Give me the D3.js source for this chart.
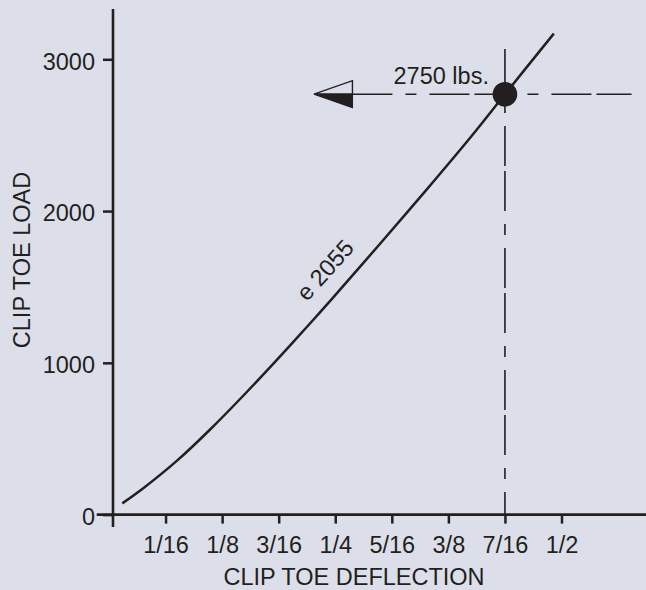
<!DOCTYPE html>
<html>
<head>
<meta charset="utf-8">
<script src="https://cdn.jsdelivr.net/npm/d3@7"></script>
<style>
  html, body { margin: 0; padding: 0; background: #dcdfea; }
  svg { display: block; }
  text { font-family: "Liberation Sans", Arial, Helvetica, sans-serif; fill: #231f20; }
</style>
</head>
<body>
<svg id="chart" width="646" height="590"></svg>
<script>
// ---- data ----
const deflection = [0.0147, 0.0386, 0.0755, 0.1123, 0.1491, 0.186, 0.2228, 0.2449, 0.30, 0.35, 0.40, 0.4375, 0.4915];
const load       = [74, 177, 357, 564, 788, 1023, 1264, 1412, 1788, 2135, 2490, 2770, 3169];
const xTickValues = [1/16, 1/8, 3/16, 1/4, 5/16, 3/8, 7/16, 1/2];
const xTickLabels = ["1/16", "1/8", "3/16", "1/4", "5/16", "3/8", "7/16", "1/2"];
const yTickValues = [0, 1000, 2000, 3000];
const yTickLabels = ["0", "1000", "2000", "3000"];
const curveLabel = "e 2055";
const markerDeflection = 7/16;
const markerLoad = 2770;
const markerLabel = "2750 lbs.";
const arrowTipDeflection = 0.2265;
const arrowBaseDeflection = 0.269;
const guideEndDeflection = 0.5774;
const guideTopLoad = 3068;
const xTitle = "CLIP TOE DEFLECTION";
const yTitle = "CLIP TOE LOAD";

// ---- layout ----
const W = 646, H = 590;
const ink = "#231f20";
const bg = "#dcdfea";
const fontSize = 23.5;
const svg = d3.select("#chart");
svg.append("rect").attr("width", W).attr("height", H).attr("fill", bg);

const x = d3.scaleLinear().domain([0, 0.5]).range([109, 561.5]);
const y = d3.scaleLinear().domain([0, 3000]).range([514.6, 59.3]);
const axisX = 113;      // y-axis position
const axisY = y(0);     // x-axis position

// ---- axes ----
const gx = svg.append("g").attr("transform", `translate(0,${axisY})`)
  .call(d3.axisBottom(x).tickValues(xTickValues).tickFormat((d, i) => xTickLabels[i]).tickSize(9));
gx.select(".domain").remove();
gx.selectAll(".tick line").attr("stroke", ink).attr("stroke-width", 2.5);
gx.selectAll(".tick text").attr("y", 38.6).attr("dy", 0).attr("fill", ink)
  .style("font-size", fontSize + "px").style("font-family", "Liberation Sans, Arial, sans-serif");

const gy = svg.append("g").attr("transform", `translate(${axisX},0)`)
  .call(d3.axisLeft(y).tickValues(yTickValues).tickFormat((d, i) => yTickLabels[i]).tickSize(10));
gy.select(".domain").remove();
gy.selectAll(".tick line").attr("stroke", ink).attr("stroke-width", 2.5);
gy.selectAll(".tick text").attr("x", -18).attr("dy", "0.42em").attr("fill", ink)
  .style("font-size", fontSize + "px").style("font-family", "Liberation Sans, Arial, sans-serif");

// axis lines
svg.append("line").attr("x1", 96.7).attr("x2", W).attr("y1", axisY).attr("y2", axisY)
  .attr("stroke", ink).attr("stroke-width", 2.6);
svg.append("line").attr("x1", axisX).attr("x2", axisX).attr("y1", 9).attr("y2", 527)
  .attr("stroke", ink).attr("stroke-width", 2.6);

// titles
svg.append("text").attr("x", 354).attr("y", 585).attr("text-anchor", "middle")
  .style("font-size", fontSize + "px").text(xTitle);
svg.append("text").attr("transform", "translate(30,260) rotate(-90)").attr("text-anchor", "middle")
  .style("font-size", fontSize + "px").text(yTitle);

// ---- guide lines ----
const dash = "40,13,11,13,40,5";
const mx = x(markerDeflection), my = y(markerLoad);
svg.append("line").attr("x1", x(arrowBaseDeflection)).attr("x2", x(guideEndDeflection))
  .attr("y1", my).attr("y2", my).attr("stroke", ink).attr("stroke-width", 1.6)
  .attr("stroke-dasharray", dash);
svg.append("line").attr("x1", mx).attr("x2", mx).attr("y1", y(guideTopLoad)).attr("y2", axisY)
  .attr("stroke", ink).attr("stroke-width", 1.6).attr("stroke-dasharray", dash);

// ---- curve ----
const pts = deflection.map((d, i) => [d, load[i]]);
svg.append("path").datum(pts)
  .attr("d", d3.line().x(d => x(d[0])).y(d => y(d[1])).curve(d3.curveCatmullRom.alpha(0.5)))
  .attr("fill", "none").attr("stroke", ink).attr("stroke-width", 2.5);

// curve label
svg.append("text").attr("transform", "translate(325,270) rotate(-48)")
  .attr("text-anchor", "middle").attr("dy", "0.35em")
  .style("font-size", fontSize + "px").text(curveLabel);

// ---- marker ----
svg.append("circle").attr("cx", mx).attr("cy", my).attr("r", 12.3).attr("fill", ink);
svg.append("text").attr("x", mx - 16).attr("y", my - 10.7).attr("text-anchor", "end")
  .style("font-size", fontSize + "px").text(markerLabel);

// ---- arrow ----
const tx = x(arrowTipDeflection), bx = x(arrowBaseDeflection);
const ah = 13.5;
svg.append("path").attr("d", `M${tx},${my} L${bx},${my - ah} L${bx},${my} Z`)
  .attr("fill", bg).attr("stroke", ink).attr("stroke-width", 1.4).attr("stroke-linejoin", "miter");
svg.append("path").attr("d", `M${tx},${my} L${bx},${my} L${bx},${my + ah} Z`)
  .attr("fill", ink).attr("stroke", ink).attr("stroke-width", 1.2);
</script>
</body>
</html>
